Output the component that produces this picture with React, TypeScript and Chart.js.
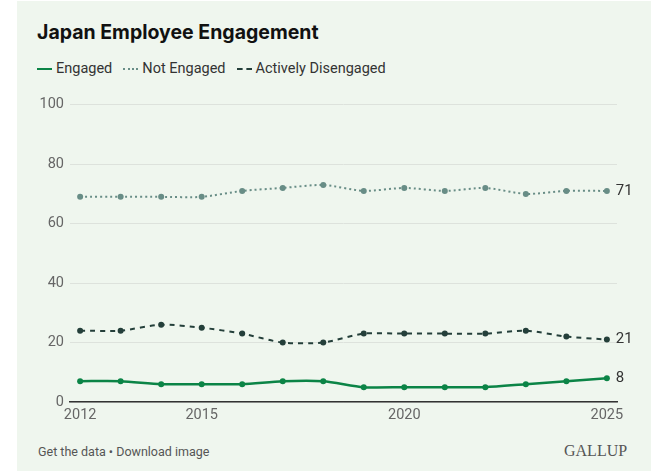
import React, { useEffect, useRef } from "react";
import { Chart, registerables } from "chart.js";

Chart.register(...registerables);

const years = [2012, 2013, 2014, 2015, 2016, 2017, 2018, 2019, 2020, 2021, 2022, 2023, 2024, 2025];
const engaged = [7, 7, 6, 6, 6, 7, 7, 5, 5, 5, 5, 6, 7, 8];
const notEngaged = [69, 69, 69, 69, 71, 72, 73, 71, 72, 71, 72, 70, 71, 71];
const activelyDisengaged = [24, 24, 26, 25, 23, 20, 20, 23, 23, 23, 23, 24, 22, 21];
const xTicks = [2012, 2015, 2020, 2025];
const yTicks = [0, 20, 40, 60, 80, 100];

const GREEN = "#0b8446";
const TEAL = "#688d86";
const DARK = "#243f3a";
const TITLE_FONT = "Inter, 'Noto Sans', sans-serif";
const FONT = "Roboto, 'Noto Sans', sans-serif";

const endLabels = {
  id: "endLabels",
  afterDatasetsDraw(chart: any) {
    const ctx = chart.ctx;
    ctx.save();
    ctx.font = `15px ${FONT}`;
    ctx.fillStyle = "#333";
    ctx.textBaseline = "middle";
    ctx.textAlign = "left";
    chart.data.datasets.forEach((ds: any, i: number) => {
      const meta = chart.getDatasetMeta(i);
      const pt = meta.data[meta.data.length - 1];
      const v = ds.data[ds.data.length - 1].y;
      ctx.fillText(String(v), pt.x + 9, pt.y);
    });
    ctx.restore();
  },
};

export default function App() {
  const ref = useRef<HTMLCanvasElement>(null);
  useEffect(() => {
    if (!ref.current) return;
    const mk = (arr: number[]) => arr.map((v, i) => ({ x: years[i], y: v }));
    const chart = new Chart(ref.current, {
      type: "line",
      data: {
        datasets: [
          {
            label: "Not Engaged",
            data: mk(notEngaged),
            borderColor: TEAL,
            backgroundColor: TEAL,
            borderWidth: 2,
            borderDash: [2, 3],
            pointRadius: 3,
            pointBorderWidth: 0,
            tension: 0.25,
          },
          {
            label: "Actively Disengaged",
            data: mk(activelyDisengaged),
            borderColor: DARK,
            backgroundColor: DARK,
            borderWidth: 2,
            borderDash: [5, 5],
            pointRadius: 3,
            pointBorderWidth: 0,
            tension: 0.25,
          },
          {
            label: "Engaged",
            data: mk(engaged),
            borderColor: GREEN,
            backgroundColor: GREEN,
            borderWidth: 2.5,
            pointRadius: 3,
            pointBorderWidth: 0,
            tension: 0.25,
          },
        ],
      },
      options: {
        responsive: false,
        animation: false,
        devicePixelRatio: 1,
        layout: { padding: { left: 0, right: 34, top: 13.5, bottom: 0 } },
        plugins: { legend: { display: false }, tooltip: { enabled: false } },
        scales: {
          x: {
            type: "linear",
            min: 2011.75,
            max: 2025.25,
            afterBuildTicks: (s: any) => {
              s.ticks = xTicks.map((v) => ({ value: v }));
            },
            afterFit: (s: any) => {
              s.height = 33;
            },
            grid: { display: false, drawTicks: false },
            border: { display: true, color: "#333", width: 1.5 },
            ticks: {
              padding: 5,
              color: "#666",
              font: { family: FONT, size: 14.5 },
              maxRotation: 0,
              callback: (v: any) => String(v),
            },
          },
          y: {
            min: 0,
            max: 100,
            afterBuildTicks: (s: any) => {
              s.ticks = yTicks.map((v) => ({ value: v }));
            },
            afterFit: (s: any) => {
              s.width = 53;
            },
            grid: { color: "#dde2dc", drawTicks: false },
            border: { display: false },
            ticks: {
              padding: 6,
              color: "#666",
              font: { family: FONT, size: 14.5 },
            },
          },
        },
      },
      plugins: [endLabels],
    });
    return () => chart.destroy();
  }, []);

  const legendItem = (label: string, style: string, color: string) => (
    <div style={{ display: "flex", alignItems: "center", marginRight: 11 }}>
      <span
        style={{
          display: "inline-block",
          width: 15,
          height: 0,
          borderTop: `2.5px ${style} ${color}`,
          marginRight: 4,
        }}
      />
      <span>{label}</span>
    </div>
  );

  return (
    <div
      style={{
        position: "absolute",
        left: 17,
        top: 1,
        width: 634,
        height: 470,
        background: "#eff6ee",
        fontFamily: FONT,
      }}
    >
      <div
        style={{
          position: "absolute",
          left: 20,
          top: 19,
          fontSize: 19.5,
          fontWeight: 700,
          color: "#111",
          fontFamily: TITLE_FONT,
          whiteSpace: "nowrap",
        }}
      >
        Japan Employee Engagement
      </div>
      <div
        style={{
          position: "absolute",
          left: 20,
          top: 59,
          fontSize: 14.5,
          color: "#333",
          display: "flex",
          whiteSpace: "nowrap",
        }}
      >
        {legendItem("Engaged", "solid", GREEN)}
        {legendItem("Not Engaged", "dotted", TEAL)}
        {legendItem("Actively Disengaged", "dashed", DARK)}
      </div>
      <canvas
        ref={ref}
        width={634}
        height={345}
        style={{ position: "absolute", left: 0, top: 89, width: 634, height: 345 }}
      />
      <div
        style={{
          position: "absolute",
          left: 21,
          top: 443,
          fontSize: 12.5,
          color: "#555",
          whiteSpace: "nowrap",
        }}
      >
        Get the data • Download image
      </div>
      <div
        style={{
          position: "absolute",
          left: 547,
          top: 441,
          fontSize: 16,
          color: "#555",
          fontFamily: "'Liberation Serif', 'DejaVu Serif', serif",
          whiteSpace: "nowrap",
        }}
      >
        GALLUP
      </div>
    </div>
  );
}
